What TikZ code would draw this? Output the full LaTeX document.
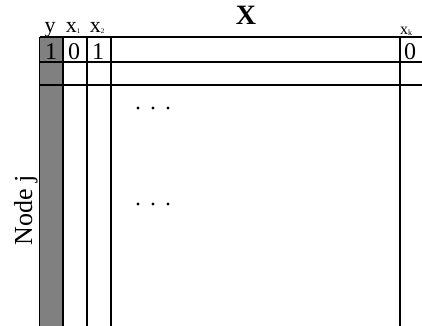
\documentclass[tikz,border=0pt]{standalone}
\usepackage{fontspec}
\setmainfont{Liberation Serif}
\begin{document}
\begin{tikzpicture}[x=1pt,y=-1pt,
  gridline/.style={line width=1.1pt},
  lbl/.style={font=\fontsize{22}{22}\selectfont, inner sep=0pt, anchor=base},
  digit/.style={font=\fontsize{24}{24}\selectfont, inner sep=0pt, anchor=base},
  small/.style={font=\fontsize{16}{16}\selectfont, inner sep=0pt, anchor=base},
  dotmark/.style={fill=black, draw=none}]
\useasboundingbox[fill=white] (0,0) rectangle (422,325);
% gray column
\fill[black!50] (39.5,37) rectangle (63,326);
% horizontal lines
\draw[gridline] (39.5,37) -- (422,37);
\draw[gridline] (39.5,62) -- (422,62);
\draw[gridline] (39.5,85) -- (422,85);
% vertical lines
\foreach \xx in {39.5,63,87,111,400} \draw[gridline] (\xx,37) -- (\xx,326);
% header labels
\node[lbl] (ylab) at (50,32) {y};
\node[lbl] (x1lab) at (73,32) {x\raisebox{-1pt}{\fontsize{7}{7}\selectfont 1}};
\node[lbl] (x2lab) at (97,32) {x\raisebox{-1pt}{\fontsize{7}{7}\selectfont 2}};
\node[font=\fontsize{28}{28}\selectfont\bfseries, inner sep=0pt, anchor=base] (Xlab) at (246,24) {X};
\node[small] (xklab) at (406,34) {x\raisebox{-1pt}{\fontsize{8}{8}\selectfont k}};
% first row values
\node[digit] (v1) at (51,59) {1};
\node[digit] (v2) at (74,59) {0};
\node[digit] (v3) at (98,59) {1};
\node[digit] (vk) at (410,59) {0};
% side label
\node[font=\fontsize{26}{26}\selectfont, inner sep=0pt, anchor=base, rotate=90] (nodej) at (32,210) {Node j};
% dots
\foreach \yy in {108,204}
  \foreach \xx in {138,153,168}
    \fill[dotmark] (\xx,\yy) circle (1.6pt);
\end{tikzpicture}
\end{document}
